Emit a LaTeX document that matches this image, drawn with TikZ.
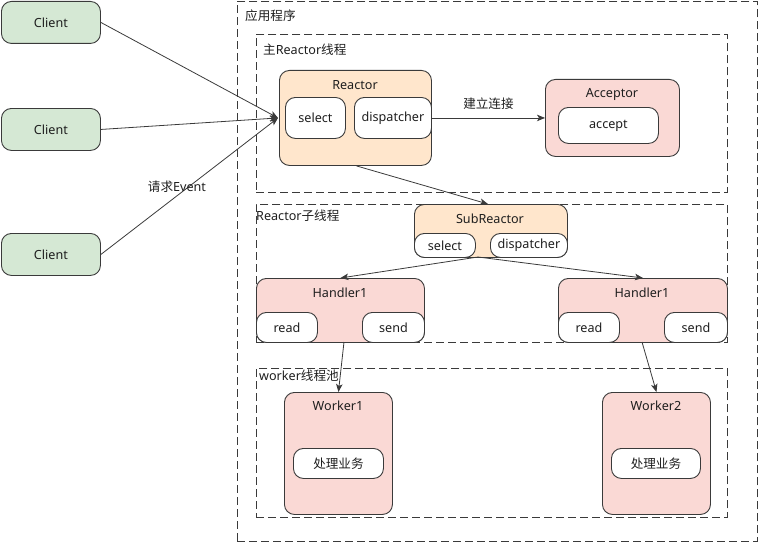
\documentclass[tikz,border=0pt]{standalone}
\usepackage{fontspec}
\setmainfont{Noto Sans}
\newfontfamily\cjk{Noto Sans CJK SC}
\usetikzlibrary{arrows.meta,calc}
\definecolor{inkc}{HTML}{1E1E1E}
\definecolor{edgec}{HTML}{3A3A3A}
\definecolor{greenf}{HTML}{D5E8D4}
\definecolor{peachf}{HTML}{FFE6CC}
\definecolor{pinkf}{HTML}{FAD9D5}
\tikzset{
  base/.style={draw=edgec, line width=0.9pt, rounded corners=10pt, anchor=north west,
    inner sep=0pt, text=inkc, font=\fontsize{12.6}{14}\selectfont},
  client/.style={base, fill=greenf},
  peach/.style={base, fill=peachf},
  pink/.style={base, fill=pinkf},
  pill/.style={base, fill=white},
  group/.style={draw=edgec, line width=0.9pt, dashed, dash pattern=on 8pt off 4pt,
    anchor=north west, inner sep=0pt},
  title/.style={text=inkc, font=\fontsize{12.6}{14}\selectfont, inner sep=0pt},
  lbl/.style={title, anchor=west},
  arr/.style={draw=edgec, line width=0.8pt, -{Stealth[length=8pt,width=6.5pt,inset=2pt]}},
}
\begin{document}
\begin{tikzpicture}[x=1pt,y=-1pt]
\useasboundingbox (0,0) rectangle (758,543);

% dashed group frames
\node[group, minimum width=520pt, minimum height=540pt] (app) at (237,1) {};
\node[lbl] (applbl) at (245,16) {\cjk 应用程序};
\node[group, minimum width=471pt, minimum height=158pt] (mainthr) at (256,34) {};
\node[lbl] (mainlbl) at (263,50) {{\cjk 主}Reactor{\cjk 线程}};
\node[group, minimum width=471pt, minimum height=138pt] (subthr) at (256,204) {};
\node[lbl] (sublbl) at (256,216) {Reactor{\cjk 子线程}};
\node[group, minimum width=471pt, minimum height=149pt] (pool) at (256,368) {};
\node[lbl] (poollbl) at (259,376) {worker{\cjk 线程池}};

% clients
\node[client, minimum width=99pt, minimum height=42pt] (c1) at (1,1) {Client};
\node[client, minimum width=99pt, minimum height=42pt] (c2) at (1,108) {Client};
\node[client, minimum width=99pt, minimum height=42pt] (c3) at (1,233) {Client};

% main reactor
\node[peach, minimum width=152pt, minimum height=95pt] (reactor) at (279,70) {};
\node[title] (reactorlbl) at (355,85) {Reactor};
\node[pill, minimum width=60pt, minimum height=41pt] (sel1) at (285,97) {select};
\node[pill, minimum width=77pt, minimum height=41pt] (disp1) at (354,97) {dispatcher};

% acceptor
\node[pink, minimum width=134pt, minimum height=77pt] (acceptor) at (545,79) {};
\node[title] (acceptorlbl) at (612,94) {Acceptor};
\node[pill, minimum width=100pt, minimum height=36pt] (accept) at (558,107) {accept};

% sub reactor
\node[peach, minimum width=153pt, minimum height=53pt] (subr) at (414,204) {};
\node[title] (subrlbl) at (490,219) {SubReactor};
\node[pill, minimum width=61pt, minimum height=24pt] (sel2) at (414,233) {select};
\node[pill, minimum width=77pt, minimum height=24pt] (disp2) at (490,233) {dispatcher};

% handlers
\node[pink, minimum width=168pt, minimum height=64pt] (h1) at (256,278) {};
\node[title] (h1lbl) at (340,293) {Handler1};
\node[pill, minimum width=61pt, minimum height=30pt] (read1) at (256,312) {read};
\node[pill, minimum width=62pt, minimum height=30pt] (send1) at (362,312) {send};
\node[pink, minimum width=169pt, minimum height=64pt] (h2) at (558,278) {};
\node[title] (h2lbl) at (642,293) {Handler1};
\node[pill, minimum width=61pt, minimum height=30pt] (read2) at (558,312) {read};
\node[pill, minimum width=63pt, minimum height=30pt] (send2) at (664,312) {send};

% workers
\node[pink, minimum width=108pt, minimum height=122pt] (w1) at (284,392) {};
\node[title] (w1lbl) at (338,406) {Worker1};
\node[pill, minimum width=90pt, minimum height=30pt] (job1) at (293,448) {\cjk 处理业务};
\node[pink, minimum width=108pt, minimum height=122pt] (w2) at (602,392) {};
\node[title] (w2lbl) at (656,406) {Worker2};
\node[pill, minimum width=89pt, minimum height=30pt] (job2) at (611,448) {\cjk 处理业务};

% connector end points
\coordinate (rin) at ($(reactor.west)+(-1,0)$);
\coordinate (rout) at ($(reactor.south)+(1,0)$);
\coordinate (subin) at ($(subr.north)+(-3,0)$);
\coordinate (subout) at (478,257);
\coordinate (h1out) at (344,342);
\coordinate (h2out) at (642,342);

% connectors
\draw[arr] (c1.east) -- (rin);
\draw[arr] (c2.east) -- (rin);
\draw[arr] (c3.east) -- (rin);
\node[title] (evlbl) at (177,187) {{\cjk 请求}Event};
\draw[arr] (disp1.east) -- (acceptor.west) node[title, midway, above=8pt] (linklbl) {\cjk 建立连接};
\draw[arr] (rout) -- (subin);
\draw[arr] (subout) -- (h1.north);
\draw[arr] (subout) -- (h2.north);
\draw[arr] (h1out) -- (w1.north);
\draw[arr] (h2out) -- (w2.north);
\end{tikzpicture}
\end{document}
